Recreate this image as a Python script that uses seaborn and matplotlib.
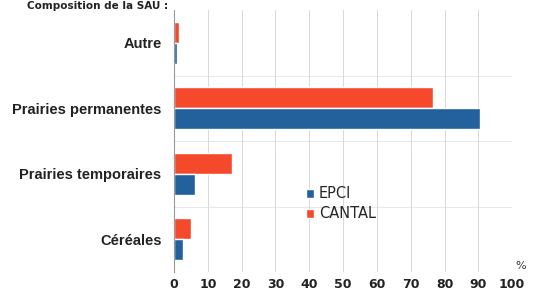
import matplotlib
matplotlib.use("Agg")
import matplotlib.pyplot as plt
import seaborn as sns
import pandas as pd

categories = ["Autre", "Prairies permanentes", "Prairies temporaires", "Céréales"]
epci = [1.0, 90.5, 6.3, 2.5]
cantal = [1.5, 76.5, 17.2, 5.0]
x_ticks = [0, 10, 20, 30, 40, 50, 60, 70, 80, 90, 100]

df = pd.DataFrame({
    "categorie": categories * 2,
    "valeur": cantal + epci,
    "zone": ["CANTAL"] * len(categories) + ["EPCI"] * len(categories),
})

sns.set_style("white")
plt.rcParams["font.family"] = ["DejaVu Sans"]

fig = plt.figure(figsize=(5.34, 2.96), dpi=100)
ax = fig.add_axes([0.326, 0.081, 0.633, 0.885])

palette = {"CANTAL": "#f4492b", "EPCI": "#22619c"}
sns.barplot(data=df, y="categorie", x="valeur", hue="zone", order=categories,
            hue_order=["CANTAL", "EPCI"], palette=palette, orient="h",
            width=0.64, saturation=1, ax=ax)

ax.set_xlim(0, 100)
ax.set_ylim(3.5, -0.5)
ax.set_xticks(x_ticks)
ax.set_xticklabels([str(t) for t in x_ticks], fontsize=9, fontweight="bold", color="#222222")
ax.set_yticks(range(len(categories)))
ax.set_yticklabels(categories, fontsize=10.5, fontweight="bold", color="#222222",
                   family=["Liberation Sans", "DejaVu Sans"])
ax.tick_params(axis="y", length=0, pad=9)
ax.tick_params(axis="x", length=0, pad=4)
ax.set_xlabel("")
ax.set_ylabel("")
ax.grid(axis="x", color="#d8d8d8", linewidth=0.7)
ax.set_axisbelow(True)
for y in [0.5, 1.5, 2.5]:
    ax.axhline(y, color="#e4e4e4", linewidth=0.6, zorder=0)
for s in ["top", "right", "bottom"]:
    ax.spines[s].set_visible(False)
ax.spines["left"].set_color("#999999")
ax.spines["left"].set_linewidth(0.8)

handles, labels = ax.get_legend_handles_labels()
order = [labels.index("EPCI"), labels.index("CANTAL")]
ax.legend([handles[i] for i in order], [labels[i] for i in order],
          loc="center left", bbox_to_anchor=(0.35, 0.26), frameon=False,
          fontsize=10.5, handlelength=0.6, handleheight=0.6, handletextpad=0.3,
          labelspacing=0.35)

fig.text(0.965, 0.085, "%", fontsize=8, color="#333333", ha="left", va="bottom")
fig.text(0.05, 0.998, "Composition de la SAU :", fontsize=7.5, fontweight="bold",
         ha="left", va="top", color="#222222")

fig.savefig("out.png", dpi=100)
